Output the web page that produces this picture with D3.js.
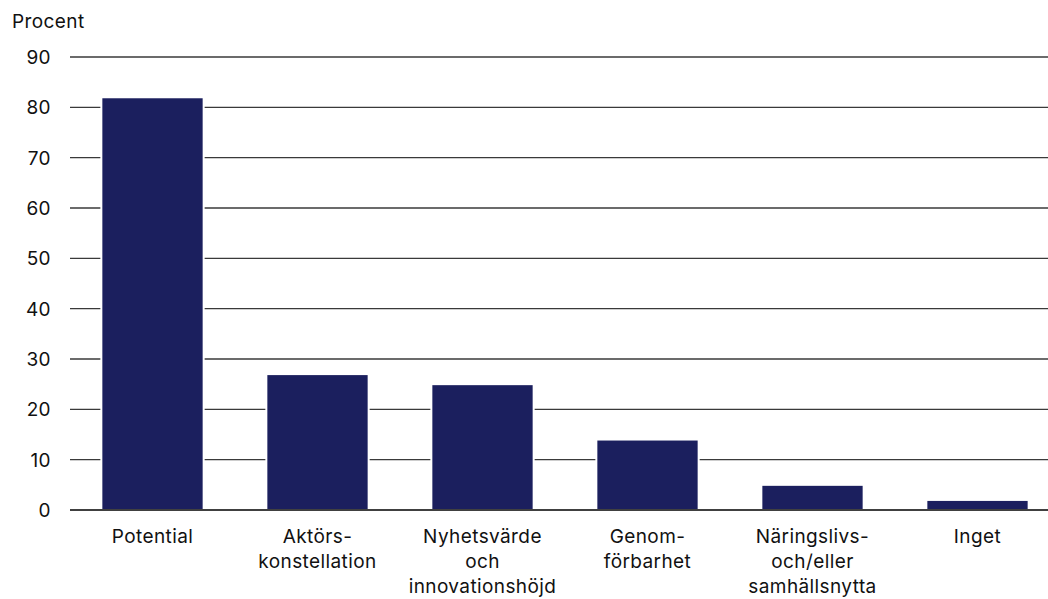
<!DOCTYPE html>
<html>
<head>
<meta charset="utf-8">
<script src="https://cdn.jsdelivr.net/npm/d3@7"></script>
<style>
  body { margin: 0; background: #fff; }
  svg { display: block; font-family: Inter, 'Noto Sans', sans-serif; }
</style>
</head>
<body>
<svg width="1048" height="599"></svg>
<script>
var categories = [
  ['Potential'],
  ['Aktörs-', 'konstellation'],
  ['Nyhetsvärde', 'och', 'innovationshöjd'],
  ['Genom-', 'förbarhet'],
  ['Näringslivs-', 'och/eller', 'samhällsnytta'],
  ['Inget']
]
var values = [82, 27, 25, 14, 5, 2]
var yTicks = [0, 10, 20, 30, 40, 50, 60, 70, 80, 90]

var chart = () => {
  var svg = d3.select('svg')
  var margin = {top: 57, right: -12, bottom: 89, left: 70}
  var width = 1048
  var height = 599
  var fontSize = 19

  var x = d3.scaleBand()
    .domain(d3.range(categories.length))
    .range([margin.left, width - margin.right])
    .paddingInner(0.38)
    .paddingOuter(0.19)

  var y = d3.scaleLinear()
    .domain([0, 90])
    .range([height - margin.bottom, margin.top])

  // grid
  svg.append('g')
    .selectAll('line').data(yTicks.filter(d => d > 0)).enter().append('line')
    .attr('x1', margin.left)
    .attr('x2', width)
    .attr('y1', d => y(d))
    .attr('y2', d => y(d))
    .attr('stroke', '#3a3a3a')
    .attr('stroke-width', 1.3)

  svg.append('g')
    .selectAll('text').data(yTicks).enter().append('text')
    .attr('x', 51)
    .attr('y', d => y(d))
    .attr('dy', '0.36em')
    .attr('text-anchor', 'end')
    .attr('font-size', fontSize)
    .attr('letter-spacing', 0.4)
    .attr('fill', '#111')
    .text(d => d)

  svg.append('text')
    .attr('x', 12)
    .attr('y', 28)
    .attr('font-size', fontSize)
    .attr('letter-spacing', 0.4)
    .attr('fill', '#111')
    .text('Procent')

  svg.append('g')
    .selectAll('rect').data(values).enter().append('rect')
    .attr('x', (d, i) => x(i))
    .attr('y', d => y(d))
    .attr('width', x.bandwidth())
    .attr('height', d => y(0) - y(d))
    .attr('fill', '#1b1f5e')
    .attr('stroke', '#fff')
    .attr('stroke-width', 2)

  svg.append('line')
    .attr('x1', margin.left)
    .attr('x2', width)
    .attr('y1', y(0))
    .attr('y2', y(0))
    .attr('stroke', '#000')
    .attr('stroke-width', 1.5)

  var labels = svg.append('g')
    .selectAll('text').data(categories).enter().append('text')
    .attr('text-anchor', 'middle')
    .attr('font-size', fontSize)
    .attr('letter-spacing', 0.4)
    .attr('fill', '#111')
  labels.selectAll('tspan').data((d, i) => d.map(t => ({t: t, i: i}))).enter().append('tspan')
    .attr('x', d => x(d.i) + x.bandwidth() / 2)
    .attr('y', (d, j) => y(0) + 33 + j * 25)
    .text(d => d.t)
}

chart()
</script>
</body>
</html>
